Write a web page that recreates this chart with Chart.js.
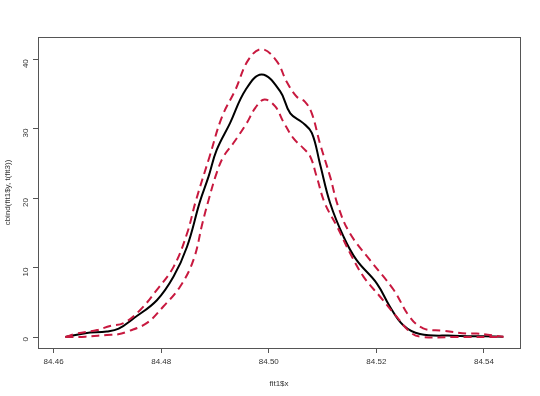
<!DOCTYPE html>
<html>
<head>
<meta charset="utf-8">
<script src="https://cdn.jsdelivr.net/npm/chart.js@4/dist/chart.umd.min.js"></script>
<style>
  html, body { margin: 0; padding: 0; background: #fff; }
  #wrap { width: 540px; height: 396px; }
</style>
</head>
<body>
<div id="wrap"><canvas id="myChart"></canvas></div>
<script>
// fitted curve (fit1$y) and the two bounds (t(fit3))
const fitX = [84.4622, 84.4659, 84.4699, 84.4721, 84.4749, 84.4792, 84.4823, 84.4848, 84.4872, 84.4888,
  84.4903, 84.4928, 84.4957, 84.4987, 84.5021, 84.5040, 84.5064, 84.5080, 84.5095, 84.5114,
  84.5139, 84.5163, 84.5201, 84.5225, 84.5250, 84.5281, 84.5343, 84.5436];
const fitY = [0.0, 0.55, 0.8, 1.2, 2.7, 5.3, 8.7, 13.0, 19.5, 23.1,
  26.9, 30.8, 35.6, 37.8, 35.4, 32.2, 30.8, 29.4, 25.0, 19.3,
  14.45, 11.1, 7.7, 4.4, 1.7, 0.43, 0.2, 0.05];

const upperX = [84.4622, 84.4643, 84.4681, 84.4705, 84.4730, 84.4761, 84.4792, 84.4823, 84.4848, 84.4864,
  84.4890, 84.4913, 84.4938, 84.4962, 84.4987, 84.5015, 84.5033, 84.5052, 84.5067, 84.5080,
  84.5095, 84.5114, 84.5129, 84.5151, 84.5188, 84.5232, 84.5262, 84.5287, 84.5324, 84.5368,
  84.5386, 84.5436];
const upperY = [0.0, 0.5, 1.0, 1.6, 2.0, 3.9, 6.8, 10.1, 14.9, 19.5,
  26.0, 31.7, 35.6, 39.9, 41.45, 39.7, 36.8, 34.6, 33.9, 32.2,
  27.9, 23.1, 18.8, 14.9, 11.1, 6.8, 2.9, 1.25, 0.9, 0.5,
  0.5, 0.05];

const lowerX = [84.4622, 84.4659, 84.4699, 84.4720, 84.4736, 84.4773, 84.4804, 84.4835, 84.4860, 84.4877,
  84.4888, 84.4903, 84.4916, 84.4934, 84.4959, 84.4975, 84.4992, 84.5012, 84.5027, 84.5046,
  84.5064, 84.5077, 84.5089, 84.5104, 84.5127, 84.5151, 84.5176, 84.5207, 84.5238, 84.5262,
  84.5281, 84.5343, 84.5436];
const lowerY = [0.0, 0.05, 0.3, 0.4, 0.76, 2.0, 4.4, 7.25, 11.1, 16.5,
  19.7, 23.6, 26.0, 27.9, 30.8, 33.0, 34.2, 33.2, 31.0, 28.6,
  27.2, 26.0, 23.1, 19.3, 15.9, 12.1, 8.7, 5.8, 2.9, 0.76,
  0.05, 0.0, 0.0];

const xTicks = [84.46, 84.48, 84.50, 84.52, 84.54];
const yTicks = [0, 10, 20, 30, 40];

const toPoints = (xs, ys) => xs.map((x, i) => ({ x: x, y: ys[i] }));

// R draws a box round the plot region
const boxPlugin = {
  id: "box",
  afterDraw(chart) {
    const a = chart.chartArea;
    const ctx = chart.ctx;
    ctx.save();
    ctx.strokeStyle = "#555";
    ctx.lineWidth = 1;
    ctx.strokeRect(Math.round(a.left) + 0.5, Math.round(a.top) + 0.5,
      Math.round(a.right - a.left), Math.round(a.bottom - a.top));
    ctx.restore();
  }
};

const red = "#c8193f";
const font = { family: "'Liberation Sans', Arial, sans-serif", size: 8 };

new Chart("myChart", {
  type: "line",
  data: {
    datasets: [
      { data: toPoints(upperX, upperY), borderColor: red, borderWidth: 2, borderDash: [8, 5] },
      { data: toPoints(lowerX, lowerY), borderColor: red, borderWidth: 2, borderDash: [8, 5] },
      { data: toPoints(fitX, fitY), borderColor: "#000", borderWidth: 2 }
    ]
  },
  options: {
    responsive: true,
    maintainAspectRatio: false,
    animation: false,
    elements: {
      point: { radius: 0 },
      line: { tension: 0.4, fill: false }
    },
    layout: { padding: { top: 37, right: 20, left: 3, bottom: 7 } },
    plugins: { legend: { display: false }, tooltip: { enabled: false } },
    scales: {
      x: {
        type: "linear",
        min: 84.4571,
        max: 84.5467,
        afterBuildTicks: s => { s.ticks = xTicks.map(v => ({ value: v })); },
        afterFit: s => { s.height = 41; },
        grid: { display: true, drawOnChartArea: false, drawTicks: true, tickLength: 5, color: "#555" },
        border: { display: false },
        ticks: { color: "#333", font: font, padding: 4, maxRotation: 0, callback: v => v.toFixed(2) },
        title: { display: true, text: "fit1$x", color: "#333", font: font, padding: { top: 6, bottom: 0 } }
      },
      y: {
        type: "linear",
        min: -1.58,
        max: 43.2,
        afterBuildTicks: s => { s.ticks = yTicks.map(v => ({ value: v })); },
        afterFit: s => { s.width = 35; },
        grid: { display: true, drawOnChartArea: false, drawTicks: true, tickLength: 5, color: "#555" },
        border: { display: false },
        ticks: { color: "#333", font: font, padding: 7, minRotation: 90, maxRotation: 90, callback: v => String(v) },
        title: { display: true, text: "cbind(fit1$y, t(fit3))", color: "#333", font: font, padding: { top: 0, bottom: 2 } }
      }
    }
  },
  plugins: [boxPlugin]
});
</script>
</body>
</html>
